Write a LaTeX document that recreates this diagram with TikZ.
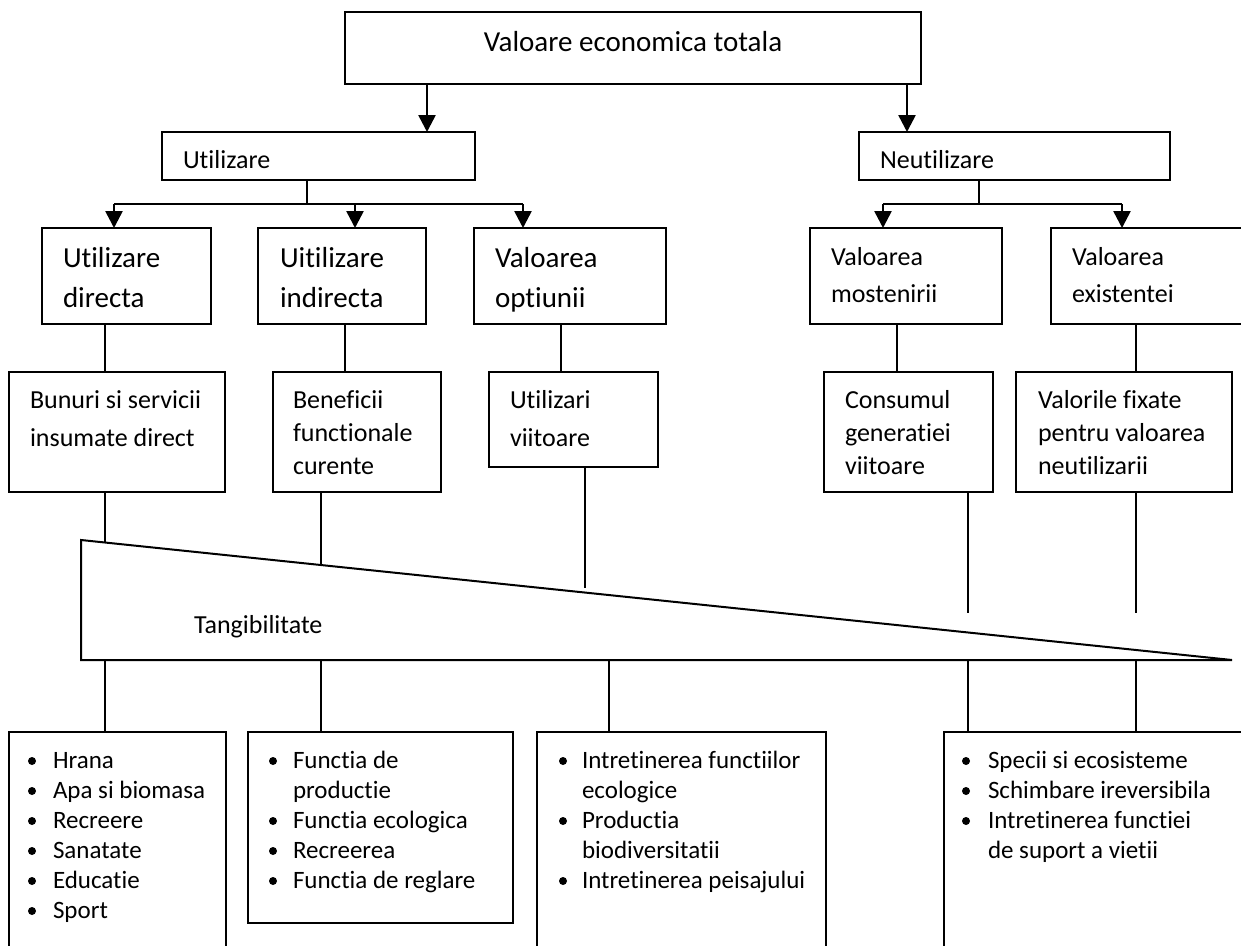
\documentclass[tikz,border=0pt]{standalone}
\usepackage{fontspec}
\setmainfont{Carlito}[Ligatures=NoCommon]
\usetikzlibrary{arrows.meta}
\tikzset{
  box/.style={draw, line width=2pt, rectangle, inner sep=0pt, outer sep=0pt, anchor=north west},
  txt/.style={inner sep=0pt, outer sep=0pt, anchor=base west},
  ln/.style={line width=1.9pt},
  arr/.style={line width=2.6pt, -{Triangle[width=17pt,length=17pt]}},
  bul/.style={fill=black},
}
\newcommand{\mkbox}[5]{\node[box, minimum width={#4-#2}, minimum height={#5-#3}] (#1) at (#2,#3) {};}
\newcommand{\fs}[2]{\fontsize{#1}{#2}\selectfont}
\newcommand{\ml}[1]{\begin{tabular}[t]{@{}l@{}}#1\end{tabular}}
\begin{document}
\begin{tikzpicture}[x=1pt, y=-1pt]
\useasboundingbox (0,0) rectangle (1241,945);
\fill[white] (0,0) rectangle (1241,945);
\clip (0,0) rectangle (1241,945);
% column coordinates
\foreach \c in {105,114,307,321,345,355,427,523,561,585,609,897,883,907,968,979,1122,1136}{\coordinate (c\c) at (\c,0);}
% boxes
\mkbox{top}{345}{12}{921}{84}
\mkbox{util}{162}{132}{475}{180}
\mkbox{neut}{859}{132}{1170}{180}
\mkbox{ud}{42}{228}{211}{324}
\mkbox{ui}{258}{228}{426}{324}
\mkbox{vo}{474}{228}{666}{324}
\mkbox{vm}{810}{228}{1002}{324}
\mkbox{ve}{1051}{228}{1262}{324}
\mkbox{bs}{9}{372}{225}{492}
\mkbox{bf}{273}{372}{441}{492}
\mkbox{uv}{489}{372}{658}{467}
\mkbox{cg}{824}{372}{993}{492}
\mkbox{vf}{1016}{372}{1232}{492}
\mkbox{la}{9}{732}{226}{960}
\mkbox{lb}{248}{732}{513}{923}
\mkbox{lc}{537}{732}{826}{960}
\mkbox{ld}{944}{732}{1262}{960}
% triangle
\coordinate (TL) at (81,540);
\coordinate (BL) at (81,660);
\coordinate (TR) at (1232,660);
\draw[line width=2pt, line join=miter] (TL) -- (BL) -- (TR) -- cycle;
% arrows from top
\draw[arr] (top.south -| c427) -- (util.north -| c427);
\draw[arr] (top.south -| c907) -- (neut.north -| c907);
% branch utilizare
\coordinate (ja) at (307,204);
\coordinate (jl) at (114,204);
\coordinate (jr) at (523,204);
\draw[ln] (util.south -| c307) -- (ja);
\draw[line width=2.2pt] (jl) -- (jr);
\draw[arr] (jl) -- (ud.north -| c114);
\draw[arr] (jl -| c355) -- (ui.north -| c355);
\draw[arr] (jr) -- (vo.north -| c523);
% branch neutilizare
\coordinate (jb) at (979,204);
\coordinate (jbl) at (883,204);
\coordinate (jbr) at (1122,204);
\draw[ln] (neut.south -| c979) -- (jb);
\draw[line width=2.2pt] (jbl) -- (jbr);
\draw[arr] (jbl) -- (vm.north -| c883);
\draw[arr] (jbr) -- (ve.north -| c1122);
% level 3 to level 4
\draw[ln] (ud.south -| c105) -- (bs.north -| c105);
\draw[ln] (ui.south -| c345) -- (bf.north -| c345);
\draw[ln] (vo.south -| c561) -- (uv.north -| c561);
\draw[ln] (vm.south -| c897) -- (cg.north -| c897);
\draw[ln] (ve.south -| c1136) -- (vf.north -| c1136);
% level 4 to triangle
\coordinate (s1) at (105,542.5);
\coordinate (s2) at (321,565);
\coordinate (s3) at (585,588);
\coordinate (s4) at (968,613);
\coordinate (s5) at (1136,613);
\draw[ln] (bs.south -| c105) -- (s1);
\draw[ln] (bf.south -| c321) -- (s2);
\draw[ln] (uv.south -| c585) -- (s3);
\draw[ln] (cg.south -| c968) -- (s4);
\draw[ln] (vf.south -| c1136) -- (s5);
% triangle to bottom boxes
\draw[ln] (BL -| c105) -- (la.north -| c105);
\draw[ln] (BL -| c321) -- (lb.north -| c321);
\draw[ln] (BL -| c609) -- (lc.north -| c609);
\draw[ln] (BL -| c968) -- (ld.north -| c968);
\draw[ln] (BL -| c1136) -- (ld.north -| c1136);
% texts
\node[txt, anchor=base, font=\fs{29}{35}] (ttop) at (633,51) {Valoare economica totala};
\node[txt, font=\fs{26}{31}] (tutil) at (183,168) {Utilizare};
\node[txt, font=\fs{26}{31}] (tneut) at (880,168) {Neutilizare};
\node[txt, font=\fs{29}{40}] (tud) at (63,267) {\ml{Utilizare\\directa}};
\node[txt, font=\fs{29}{40}] (tui) at (280,267) {\ml{Uitilizare\\indirecta}};
\node[txt, font=\fs{29}{40}] (tvo) at (495,267) {\ml{Valoarea\\optiunii}};
\node[txt, font=\fs{26}{37}] (tvm) at (831,265) {\ml{Valoarea\\mostenirii}};
\node[txt, font=\fs{26}{37}] (tve) at (1072,265) {\ml{Valoarea\\existentei}};
\node[txt, font=\fs{26}{38}] (tbs) at (30,408) {\ml{Bunuri si servicii\\insumate direct}};
\node[txt, font=\fs{26}{33}] (tbf) at (293,408) {\ml{Beneficii\\functionale\\curente}};
\node[txt, font=\fs{26}{38}] (tuv) at (510,408) {\ml{Utilizari\\viitoare}};
\node[txt, font=\fs{26}{33}] (tcg) at (845,408) {\ml{Consumul\\generatiei\\viitoare}};
\node[txt, font=\fs{26}{33}] (tvf) at (1038,408) {\ml{Valorile fixate\\pentru valoarea\\neutilizarii}};
\node[txt, font=\fs{26}{31}] (ttang) at (194,633) {Tangibilitate};
\node[txt, font=\fs{25}{30}] (tla) at (53,768) {\ml{Hrana\\Apa si biomasa\\Recreere\\Sanatate\\Educatie\\Sport}};
\node[txt, font=\fs{25}{30}] (tlb) at (293,768) {\ml{Functia de\\productie\\Functia ecologica\\Recreerea\\Functia de reglare}};
\node[txt, font=\fs{25}{30}] (tlc) at (582,768) {\ml{Intretinerea functiilor\\ecologice\\Productia\\biodiversitatii\\Intretinerea peisajului}};
\node[txt, font=\fs{25}{30}] (tld) at (988,768) {\ml{Specii si ecosisteme\\Schimbare ireversibila\\Intretinerea functiei\\de suport a vietii}};
% bullets
\foreach \r in {0,1,2,3,4,5}{\fill[bul] (32,761+30*\r) circle[radius=4pt];}
\foreach \r in {0,2,3,4}{\fill[bul] (273,761+30*\r) circle[radius=4pt];}
\foreach \r in {0,2,4}{\fill[bul] (563,761+30*\r) circle[radius=4pt];}
\foreach \r in {0,1,2}{\fill[bul] (966,761+30*\r) circle[radius=4pt];}
\end{tikzpicture}
\end{document}
